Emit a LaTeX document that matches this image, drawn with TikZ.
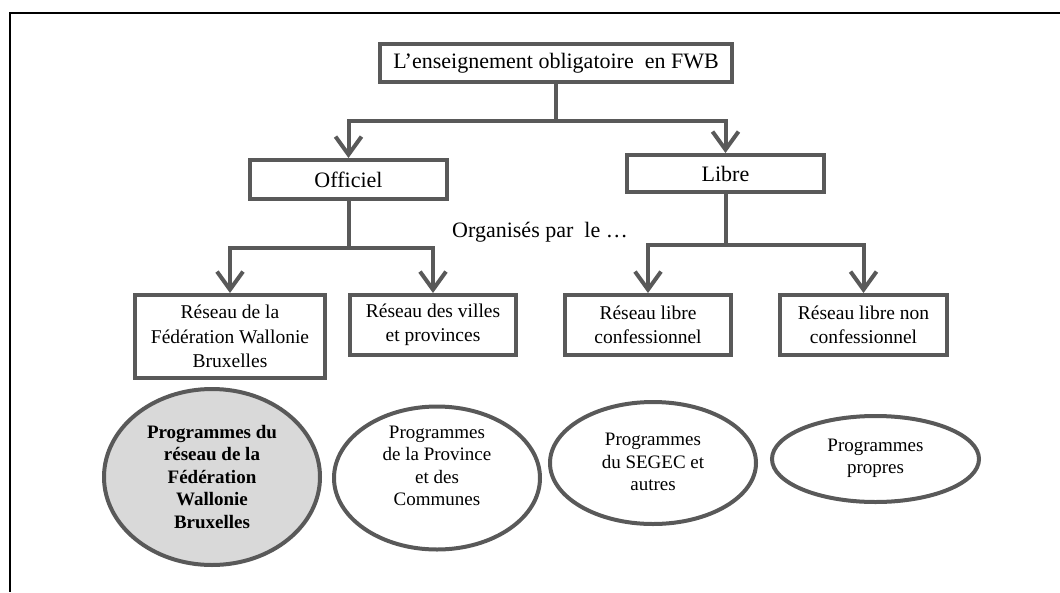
\documentclass[tikz,border=0pt]{standalone}
\usepackage{fontspec}
\setmainfont{Liberation Serif}
\usetikzlibrary{arrows.meta,shapes.geometric}
\definecolor{lc}{HTML}{595959}
\definecolor{ef}{HTML}{D9D9D9}
\tikzset{
  box/.style={draw=lc, line width=4pt, rectangle, inner sep=0pt, align=center, font=\fontsize{19.5}{24.5}\selectfont},
  bigbox/.style={box, font=\fontsize{22}{26}\selectfont},
  arr/.style={draw=lc, line width=4pt, -{Straight Barb[length=18pt,width=26pt]}},
  ell/.style={draw=lc, line width=4pt, ellipse, inner sep=0pt},
  etext/.style={align=center, font=\fontsize{19}{22.5}\selectfont},
}
\begin{document}
\begin{tikzpicture}[x=1pt,y=-1pt]
\useasboundingbox (0,0) rectangle (1060,592);
\draw[black, line width=1.2pt] (1060,13) -- (10,13) -- (10,592);

\node[bigbox, minimum width=352pt, minimum height=38pt] (top) at (556,63) {L’enseignement obligatoire~ en FWB};
\node[bigbox, minimum width=197pt, minimum height=39pt] (off) at (348.5,179.5) {Officiel};
\node[bigbox, minimum width=197pt, minimum height=37pt] (lib) at (725.5,173.5) {Libre};

\node[box, minimum width=190pt, minimum height=83pt] (b1) at (230,336.5) {Réseau de la\\Fédération Wallonie\\Bruxelles};
\node[box, minimum width=166pt, minimum height=60pt] (b2) at (433,325) {Réseau des villes\\et provinces};
\node[box, minimum width=166pt, minimum height=60pt] (b3) at (648,325) {Réseau libre\\confessionnel};
\node[box, minimum width=167pt, minimum height=60pt] (b4) at (863.5,325) {Réseau libre non\\confessionnel};

\draw[arr] (top.south) -- ++(0,37) coordinate (j0) -| (off.north);
\draw[arr] (j0) -| (lib.north);
\draw[arr] (off.south) -- ++(0,47) coordinate (j1) -| (b1.north);
\draw[arr] (j1) -| (b2.north);
\draw[arr] (lib.south) -- ++(0,51) coordinate (j2) -| (b3.north);
\draw[arr] (j2) -| (b4.north);

\node[font=\fontsize{22}{26}\selectfont] (org) at (540,232) {Organisés par~ le …};

\node[ell, fill=ef, minimum width=216pt, minimum height=176pt] (e1) at (212,477) {};
\node[ell, minimum width=206pt, minimum height=143pt] (e2) at (437,478) {};
\node[ell, minimum width=206pt, minimum height=122pt] (e3) at (653,463) {};
\node[ell, minimum width=207pt, minimum height=86pt] (e4) at (875.5,459) {};

\node[etext, font=\fontsize{19}{22.5}\selectfont\bfseries] (t1) at (212,477) {Programmes du\\réseau de la\\Fédération\\Wallonie\\Bruxelles};
\node[etext] (t2) at (437,466) {Programmes\\de la Province\\et des\\Communes};
\node[etext] (t3) at (653,462) {Programmes\\du SEGEC et\\autres};
\node[etext] (t4) at (875.5,458.5) {Programmes\\propres};
\end{tikzpicture}
\end{document}
